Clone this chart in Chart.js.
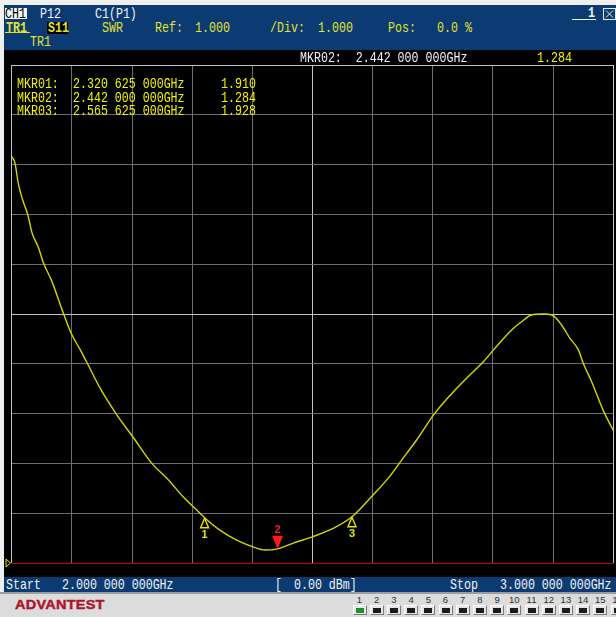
<!DOCTYPE html>
<html>
<head>
<meta charset="utf-8">
<title>CH1 S11 SWR</title>
<script src="https://cdn.jsdelivr.net/npm/chart.js@4.4.1/dist/chart.umd.min.js"></script>
<style>
  html, body { margin: 0; padding: 0; }
  body {
    width: 616px; height: 617px; position: relative; overflow: hidden;
    background: #efefef;
    font-family: "Liberation Mono", "DejaVu Sans Mono", monospace;
  }
  .panel { position: absolute; }
  #hdr  { left: 4px; top: 5px;   width: 612px; height: 45px;  background: #0b3b72; }
  #scope{ left: 4px; top: 50px;  width: 612px; height: 527px; background: #000; }
  #ftr  { left: 4px; top: 577px; width: 612px; height: 15px;  background: #0b3b72; }
  #base { left: 0;   top: 592px; width: 616px; height: 25px;  background: #dcdcdc;
          border-top: 2px solid #9c9c9c; box-sizing: border-box; }
  #c { position: absolute; left: 4px; top: 50px; }
  .t {
    position: absolute; white-space: pre; font-size: 14px; line-height: 14px; height: 14px;
    transform: scaleX(0.83); transform-origin: 0 50%; z-index: 3;
  }
  .box { position: absolute; z-index: 2; }
  .y  { color: #e2e22e; }
  .yb { color: #f2f200; }
  .w  { color: #f2f2f2; }
  .b  { font-weight: bold; }
  #logo {
    position: absolute; left: 15px; top: 598px; z-index: 3;
    font-family: "Liberation Sans", Arial, sans-serif; font-weight: bold; font-size: 12.5px;
    line-height: 14px; color: #ad1428; transform: scaleX(1.16); transform-origin: 0 50%;
    letter-spacing: 0.2px; -webkit-text-stroke: 0.4px #ad1428;
  }
  .num {
    position: absolute; top: 594px; width: 20px; text-align: center; z-index: 3;
    font-family: "Liberation Sans", Arial, sans-serif; font-size: 9.5px; line-height: 11px; color: #303030;
  }
  .btn {
    position: absolute; top: 605px; width: 14px; height: 10px; box-sizing: border-box; z-index: 3;
    background: #e6e6e6; border-top: 1px solid #ffffff; border-left: 1px solid #ffffff;
    border-right: 1px solid #7a7a7a; border-bottom: 1px solid #7a7a7a;
  }
  .btn i {
    position: absolute; left: 2px; top: 2px; width: 8px; height: 5px; background: #1b1b1b;
  }
  .btn.on i { background: #1f8c34; }
</style>
</head>
<body>
<div class="panel" id="hdr"></div>
<div class="panel" id="scope"></div>
<div class="panel" id="ftr"></div>
<div class="panel" id="base"></div>
<canvas id="c" width="612" height="527"></canvas>

<!-- header: channel / trace settings -->
<div class="box" style="left:5px;top:8px;width:22px;height:11px;background:#f4f4f4;"></div>
<div class="t" style="left:5px;top:6.5px;color:#000;">CH1</div>
<div class="t w" style="left:40px;top:6.5px;">P12</div>
<div class="t w" style="left:95px;top:6.5px;">C1(P1)</div>

<div class="t y b" style="left:6px;top:21px;">TR1</div>
<div class="box" style="left:5px;top:32px;width:25px;height:1px;background:#e2e22e;"></div>
<div class="box" style="left:47px;top:22px;width:21px;height:12px;background:#000;"></div>
<div class="t y b" style="left:48px;top:21px;">S11</div>
<div class="t y" style="left:102px;top:21px;">SWR</div>
<div class="t y" style="left:155px;top:21px;">Ref:</div>
<div class="t y" id="refTxt" style="left:195px;top:21px;"></div>
<div class="t y" style="left:270px;top:21px;">/Div:</div>
<div class="t y" id="divTxt" style="left:318px;top:21px;"></div>
<div class="t y" style="left:388px;top:21px;">Pos:</div>
<div class="t y" style="left:437px;top:21px;">0.0 %</div>
<div class="t y" style="left:30px;top:35px;">TR1</div>

<div class="t w b" style="left:588px;top:6px;">1</div>
<div class="box" style="left:572px;top:19px;width:24px;height:1px;background:#f2f2f2;"></div>
<svg class="box" style="left:603px;top:8px;" width="13" height="12">
  <rect x="0.5" y="0.5" width="12" height="11" fill="none" stroke="#e8e8e8"/>
  <path d="M3 2.5 L10 9.5 M10 2.5 L3 9.5" stroke="#e8e8e8" stroke-width="1"/>
</svg>

<!-- active marker readout -->
<div class="t w" id="actFreq" style="left:300px;top:51px;"></div>
<div class="t yb" id="actVal" style="left:537px;top:51px;"></div>

<!-- marker table -->
<div id="mtable"></div>

<!-- sweep span -->
<div class="t w" style="left:6px;top:578px;">Start</div>
<div class="t w" id="startTxt" style="left:62px;top:578px;"></div>
<div class="t w" style="left:275px;top:578px;">[</div>
<div class="t w" style="left:294px;top:578px;">0.00 dBm]</div>
<div class="t w" style="left:450px;top:578px;">Stop</div>
<div class="t w" id="stopTxt" style="left:500px;top:578px;"></div>

<div id="logo">ADVANTEST</div>
<div id="btns"></div>

<script>
// Sweep range and display scale (SWR, Ref 1.000 at bottom, 1.000 per division)
const startGHz = 2.0;
const stopGHz = 3.0;
const refLevel = 1.0;
const perDiv = 1.0;
const divisions = 10;

// Measured S11 SWR trace
const freqGHz = [
  2.000, 2.0055, 2.011, 2.018, 2.027, 2.034, 2.044, 2.053, 2.067,
  2.078, 2.087, 2.099, 2.114, 2.127, 2.147, 2.175, 2.201, 2.233, 2.258,
  2.285, 2.313, 2.320625, 2.346, 2.374, 2.402, 2.421, 2.442, 2.468, 2.501,
  2.535, 2.565625, 2.598, 2.629, 2.646, 2.673, 2.701, 2.729, 2.756, 2.784,
  2.801, 2.831, 2.848, 2.864, 2.884, 2.898, 2.914, 2.928, 2.942, 2.950,
  2.964, 2.983, 3.000
];
const swr = [
  9.16, 9.03, 8.62, 8.30, 7.98, 7.62, 7.35, 7.02, 6.65,
  6.28, 5.98, 5.61, 5.28, 4.98, 4.51, 3.97, 3.54, 3.00, 2.70,
  2.33, 2.00, 1.910, 1.66, 1.46, 1.32, 1.26, 1.284, 1.40, 1.53,
  1.70, 1.928, 2.33, 2.75, 3.03, 3.47, 3.97, 4.37, 4.71, 5.04,
  5.28, 5.68, 5.85, 5.98, 6.00, 5.98, 5.78, 5.51, 5.28, 5.01,
  4.64, 4.07, 3.66
];

// Markers
const markerNames = ['MKR01', 'MKR02', 'MKR03'];
const markerFreq = [2.320625, 2.442, 2.565625];
const markerSwr = [1.910, 1.284, 1.928];
const activeMarker = 1;

function fmtGHz(f) {
  const s = f.toFixed(9);               // e.g. 2.320625000
  const [a, b] = s.split('.');
  return a + '.' + b.slice(0, 3) + ' ' + b.slice(3, 6) + ' ' + b.slice(6, 9) + 'GHz';
}

// Text readouts
document.getElementById('refTxt').textContent = refLevel.toFixed(3);
document.getElementById('divTxt').textContent = perDiv.toFixed(3);
document.getElementById('startTxt').textContent = fmtGHz(startGHz);
document.getElementById('stopTxt').textContent = fmtGHz(stopGHz);
document.getElementById('actFreq').textContent =
  markerNames[activeMarker] + ':  ' + fmtGHz(markerFreq[activeMarker]);
document.getElementById('actVal').textContent = markerSwr[activeMarker].toFixed(3);

const table = document.getElementById('mtable');
markerNames.forEach((name, i) => {
  const top = 77 + i * 13.6;
  const rows = [[17, name + ':'], [73, fmtGHz(markerFreq[i])], [221, markerSwr[i].toFixed(3)]];
  rows.forEach(([left, txt]) => {
    const d = document.createElement('div');
    d.className = 't yb';
    d.style.left = left + 'px';
    d.style.top = top + 'px';
    d.textContent = txt;
    table.appendChild(d);
  });
});

// Channel buttons along the bottom
const btns = document.getElementById('btns');
for (let i = 1; i <= 16; i++) {
  const cx = 359.5 + (i - 1) * 17.2;
  const n = document.createElement('div');
  n.className = 'num';
  n.style.left = (cx - 10) + 'px';
  n.textContent = i;
  btns.appendChild(n);
  const b = document.createElement('div');
  b.className = 'btn' + (i === 1 ? ' on' : '');
  b.style.left = Math.round(cx - 7) + 'px';
  b.appendChild(document.createElement('i'));
  btns.appendChild(b);
}

// Grid colours: outer frame and centre lines brighter, reference line red
const gridDim = '#6f6f6f';
const gridBright = '#c4c4c4';
const refRed = '#cc0000';

const markerPlugin = {
  id: 'markers',
  afterDatasetsDraw(chart) {
    const { ctx, scales: { x, y } } = chart;
    ctx.save();
    ctx.font = 'bold 11px "Liberation Sans", Arial, sans-serif';
    ctx.textAlign = 'center';
    ctx.textBaseline = 'middle';
    markerFreq.forEach((f, i) => {
      const px = x.getPixelForValue(f);
      const py = y.getPixelForValue(markerSwr[i]);
      const label = String(i + 1);
      if (i === activeMarker) {
        ctx.fillStyle = '#ff1a1a';
        ctx.beginPath();
        ctx.moveTo(px, py);
        ctx.lineTo(px - 5.5, py - 13);
        ctx.lineTo(px + 5.5, py - 13);
        ctx.closePath();
        ctx.fill();
        ctx.fillText(label, px, py - 19);
      } else {
        ctx.strokeStyle = '#e6e600';
        ctx.lineWidth = 1.4;
        ctx.beginPath();
        ctx.moveTo(px, py + 0.5);
        ctx.lineTo(px - 4, py + 10);
        ctx.lineTo(px + 4, py + 10);
        ctx.closePath();
        ctx.stroke();
        ctx.fillStyle = '#e6e600';
        ctx.fillText(label, px, py + 17.5);
      }
    });
    // reference position pointer at the left edge
    const ry = y.getPixelForValue(refLevel);
    ctx.strokeStyle = '#e6e600';
    ctx.lineWidth = 1;
    ctx.beginPath();
    ctx.moveTo(2, ry - 4);
    ctx.lineTo(6.5, ry);
    ctx.lineTo(2, ry + 4);
    ctx.closePath();
    ctx.stroke();
    ctx.restore();
  }
};

new Chart(document.getElementById('c'), {
  type: 'line',
  data: {
    datasets: [{
      label: 'S11 SWR',
      data: freqGHz.map((f, i) => ({ x: f, y: swr[i] })),
      borderColor: '#d6d600',
      borderWidth: 1.4,
      pointRadius: 0,
      cubicInterpolationMode: 'monotone',
      fill: false
    }]
  },
  options: {
    responsive: false,
    animation: false,
    events: [],
    layout: { padding: { left: 7.7, right: 2.7, top: 15, bottom: 14 } },
    plugins: { legend: { display: false }, tooltip: { enabled: false } },
    scales: {
      x: {
        type: 'linear', min: startGHz, max: stopGHz,
        ticks: { display: false, stepSize: (stopGHz - startGHz) / divisions },
        grid: {
          drawTicks: false, lineWidth: 1,
          color: c => (c.index === 0 || c.index === 5 || c.index === divisions) ? gridBright : gridDim
        },
        border: { display: false }
      },
      y: {
        type: 'linear', min: refLevel, max: refLevel + perDiv * divisions,
        ticks: { display: false, stepSize: perDiv },
        grid: {
          drawTicks: false, lineWidth: 1,
          color: c => c.index === 0 ? refRed : ((c.index === 5 || c.index === divisions) ? gridBright : gridDim)
        },
        border: { display: false }
      }
    }
  },
  plugins: [markerPlugin]
});
</script>
</body>
</html>
